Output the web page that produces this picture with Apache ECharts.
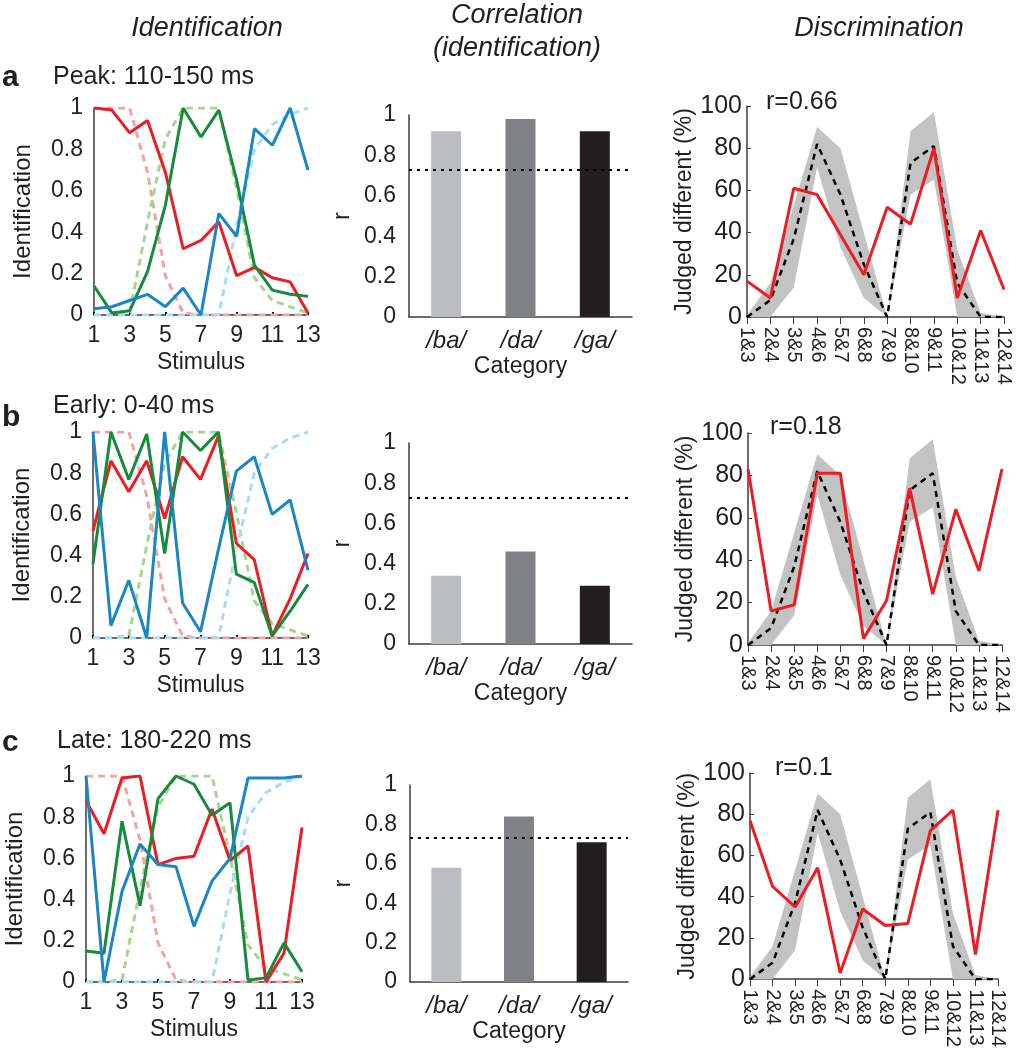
<!DOCTYPE html>
<html><head><meta charset="utf-8">
<script src="https://cdn.jsdelivr.net/npm/echarts@6/dist/echarts.min.js"></script>
<style>html,body{margin:0;padding:0;background:#fff}#c{width:1021px;height:1050px}</style>
</head><body><div id="c"></div>
<script>
// ---------- data ----------
const stimuli = ['1','2','3','4','5','6','7','8','9','10','11','12','13'];
// behavioural identification (dashed, light colours), same in every row
const behavBa = [1,1,1,0.69,0.19,0.01,0,0,0,0,0,0,0];
const behavDa = [0,0,0.01,0.45,0.85,1,1,1,0.61,0.18,0.07,0.04,0.01];
const behavGa = [0,0,0,0,0,0,0,0,0.43,0.8,0.92,0.97,1];
// neural identification (solid)
const peakBa  = [1.0,0.99,0.88,0.94,0.69,0.32,0.36,0.45,0.19,0.23,0.18,0.16,0.01];
const peakDa  = [0.14,0.01,0.02,0.21,0.53,1.0,0.86,0.99,0.65,0.24,0.12,0.1,0.09];
const peakGa  = [0.03,0.04,0.07,0.1,0.04,0.13,0.0,0.49,0.38,0.9,0.82,1.0,0.7];
const earlyBa = [0.52,0.86,0.71,0.86,0.58,0.88,0.77,0.98,0.46,0.38,0.01,0.19,0.41];
const earlyDa = [0.36,1.0,0.77,0.99,0.41,1.0,0.91,1.0,0.31,0.27,0.01,0.13,0.26];
const earlyGa = [1.0,0.06,0.28,0.0,1.0,0.17,0.03,0.43,0.81,0.88,0.6,0.67,0.33];
const lateBa  = [0.88,0.72,0.99,1.0,0.57,0.6,0.61,0.84,0.59,0.66,0.0,0.14,0.75];
const lateDa  = [0.15,0.14,0.78,0.37,0.89,1.0,0.96,0.81,0.87,0.01,0.02,0.19,0.05];
const lateGa  = [1.0,0.0,0.44,0.67,0.57,0.56,0.27,0.49,0.6,0.99,0.99,0.99,1.0];
// correlation bars
const corrCats = ['/ba/','/da/','/ga/'];
const corrPeak  = [0.92,0.98,0.92];
const corrEarly = [0.34,0.46,0.29];
const corrLate  = [0.58,0.84,0.71];
const corrThreshold = 0.73;
// discrimination
const discLabels = ['1&3','2&4','3&5','4&6','5&7','6&8','7&9','8&10','9&11','10&12','11&13','12&14'];
const behavMean = [0,8,37,82,58,25,0,73,81,16,0,0];
const behavLow  = [0,0,14,71,33,9,0,58,65,0,0,0];
const behavHigh = [1,16,53,90,80,40,0,88,97,32,2,0];
const discPeak  = [17,9,61,58,39,20,52,44,80,9,41,13];
const discEarly = [83,16,19,81,81,3,21,74,24,64,35,83];
const discLate  = [77,45,35,54,3,34,26,27,72,82,12,82];
const rTexts = ['r=0.66','r=0.18','r=0.1'];
const rowTitles = ['Peak: 110-150 ms','Early: 0-40 ms','Late: 180-220 ms'];
const rowLetters = ['a','b','c'];

// ---------- style / layout ----------
const FONT = 'Liberation Sans';
const INK = '#231f20';
const AX = '#3d3d3d';
const RED = '#ed1c24', GREEN = '#178a3c', BLUE = '#1b86c2';
const LRED = '#f4a2a2', LGREEN = '#a5d68f', LBLUE = '#a6dcf5';
const barColors = ['#bcbdc0','#808184','#231f20'];

const identData = [[peakBa,peakDa,peakGa],[earlyBa,earlyDa,earlyGa],[lateBa,lateDa,lateGa]];
const corrData = [corrPeak, corrEarly, corrLate];
const discData = [discPeak, discEarly, discLate];

const identGrids = [
  {left:94, top:108, width:214, height:207},
  {left:93, top:432, width:215, height:206},
  {left:86, top:776, width:216, height:206}
];
const barGrids = [
  {left:409, top:115, width:223, height:202},
  {left:409, top:443, width:223, height:201},
  {left:410, top:785, width:218, height:197}
];
const discGrids = [
  {left:747, top:106, width:257, height:211},
  {left:748, top:433, width:254, height:212},
  {left:750, top:773, width:248, height:210}
];
const rPos = [[766,102],[770,427],[775,768]];
const letterPos = [[2,78],[2,418],[2,743]];
const titlePos = [[53,77],[53,406],[57,741]];

const grid = [], xAxis = [], yAxis = [], series = [], graphic = [];

function axLine(){ return {show:true, lineStyle:{color:AX, width:1.5}}; }

for (let r = 0; r < 3; r++) {
  // identification panel
  let gi = grid.length;
  grid.push(identGrids[r]);
  xAxis.push({gridIndex:gi, type:'category', data:stimuli, boundaryGap:false,
    axisLine:axLine(), axisTick:{show:true, inside:true, length:3, interval:1, lineStyle:{color:'#000', width:2}},
    axisLabel:{interval:1, fontSize:23, color:INK, margin:9, fontFamily:FONT},
    name:'Stimulus', nameLocation:'middle', nameGap:36, nameTextStyle:{fontSize:23, color:INK, fontFamily:FONT}});
  yAxis.push({gridIndex:gi, type:'value', min:0, max:1, interval:0.2,
    axisLine:axLine(), axisTick:{show:false}, splitLine:{show:false},
    axisLabel:{fontSize:23, color:INK, margin:11, fontFamily:FONT},
    name:'Identification', nameLocation:'middle', nameGap:59, nameTextStyle:{fontSize:24, color:INK, fontFamily:FONT}});
  const behav = [[behavBa,LRED],[behavDa,LGREEN],[behavGa,LBLUE]];
  behav.forEach(([d,c]) => series.push({type:'line', xAxisIndex:gi, yAxisIndex:gi, data:d, symbol:'none',
    lineStyle:{color:c, width:3, type:[7,5]}, z:2, silent:true}));
  const sol = [[identData[r][0],RED],[identData[r][1],GREEN],[identData[r][2],BLUE]];
  sol.forEach(([d,c]) => series.push({type:'line', xAxisIndex:gi, yAxisIndex:gi, data:d, symbol:'none',
    lineStyle:{color:c, width:3}, z:3, silent:true}));

  // correlation bars
  gi = grid.length;
  grid.push(barGrids[r]);
  xAxis.push({gridIndex:gi, type:'category', data:corrCats,
    axisLine:axLine(), axisTick:{show:true, inside:true, length:3, alignWithLabel:true, lineStyle:{color:'#000'}},
    axisLabel:{fontSize:24, fontStyle:'italic', color:INK, margin:12, fontFamily:FONT},
    name:'Category', nameLocation:'middle', nameGap:38, nameTextStyle:{fontSize:23, color:INK, fontFamily:FONT}});
  yAxis.push({gridIndex:gi, type:'value', min:0, max:1, interval:0.2,
    axisLine:axLine(), axisTick:{show:false}, splitLine:{show:false},
    axisLabel:{fontSize:23, color:INK, margin:13, fontFamily:FONT},
    name:'r', nameLocation:'middle', nameGap:55, nameTextStyle:{fontSize:24, color:INK, fontFamily:FONT}});
  series.push({type:'bar', xAxisIndex:gi, yAxisIndex:gi, barWidth:30, silent:true,
    data:corrData[r].map((v,i)=>({value:v, itemStyle:{color:barColors[i]}})),
    markLine:{silent:true, symbol:'none', label:{show:false},
      lineStyle:{color:'#000', width:2, type:[3,5]}, data:[{yAxis:corrThreshold}]}});

  // discrimination
  gi = grid.length;
  grid.push(discGrids[r]);
  xAxis.push({gridIndex:gi, type:'category', data:discLabels, boundaryGap:false,
    axisLine:axLine(), axisTick:{show:true, length:7, interval:0, lineStyle:{color:AX}},
    axisLabel:{rotate:-90, interval:0, fontSize:20, color:INK, margin:10, fontFamily:FONT}});
  yAxis.push({gridIndex:gi, type:'value', min:0, max:100, interval:20,
    axisLine:axLine(), axisTick:{show:true, inside:true, length:4, lineStyle:{color:AX}}, splitLine:{show:false},
    axisLabel:{fontSize:25, color:INK, margin:5, fontFamily:FONT},
    name:'Judged different (%)', nameLocation:'middle', nameGap:51, nameTextStyle:{fontSize:23, color:INK, fontFamily:FONT}});
  series.push({type:'line', xAxisIndex:gi, yAxisIndex:gi, data:behavLow, stack:'band'+r, symbol:'none',
    lineStyle:{opacity:0}, silent:true, z:1});
  series.push({type:'line', xAxisIndex:gi, yAxisIndex:gi, data:behavHigh.map((v,i)=>v-behavLow[i]), stack:'band'+r, symbol:'none',
    lineStyle:{opacity:0}, areaStyle:{color:'#c3c3c3', opacity:1}, silent:true, z:1});
  series.push({type:'line', xAxisIndex:gi, yAxisIndex:gi, data:behavMean, symbol:'none',
    lineStyle:{color:'#000', width:2.5, type:[6,5]}, silent:true, z:2});
  series.push({type:'line', xAxisIndex:gi, yAxisIndex:gi, data:discData[r], symbol:'none',
    lineStyle:{color:RED, width:3}, silent:true, z:3});

  // texts
  graphic.push({type:'text', x:rPos[r][0], y:rPos[r][1], style:{text:rTexts[r], fontSize:25, fontFamily:FONT, fill:INK, align:'left', verticalAlign:'middle'}});
  graphic.push({type:'text', x:letterPos[r][0], y:letterPos[r][1], style:{text:rowLetters[r], fontSize:30, fontWeight:'bold', fontFamily:FONT, fill:INK, align:'left', verticalAlign:'middle'}});
  graphic.push({type:'text', x:titlePos[r][0], y:titlePos[r][1], style:{text:rowTitles[r], fontSize:25, fontFamily:FONT, fill:INK, align:'left', verticalAlign:'middle'}});
}
const headers = [['Identification',207,28],['Correlation',517,15],['(identification)',517,48],['Discrimination',879,28]];
headers.forEach(([t,x,y]) => graphic.push({type:'text', x:x, y:y, style:{text:t, fontSize:27, fontStyle:'italic', fontFamily:FONT, fill:INK, align:'center', verticalAlign:'middle'}}));

const chart = echarts.init(document.getElementById('c'), null, {renderer:'canvas'});
chart.setOption({animation:false, backgroundColor:'#fff', textStyle:{fontFamily:FONT}, grid, xAxis, yAxis, series, graphic});
</script></body></html>
